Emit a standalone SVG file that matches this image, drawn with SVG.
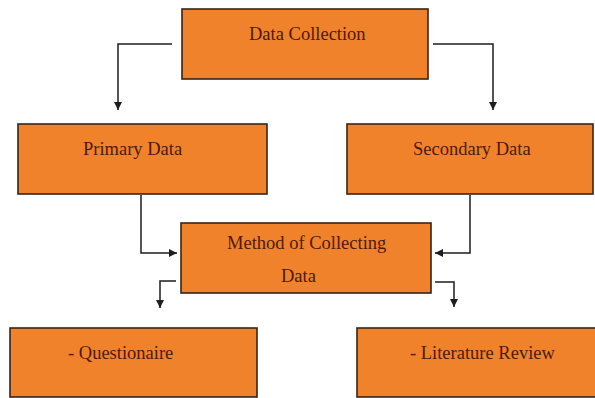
<svg xmlns="http://www.w3.org/2000/svg" width="595" height="398" viewBox="0 0 595 398">
<defs>
<style>
.box{fill:#F0822C;stroke:#3a2416;stroke-width:1.6}
.lbl{font-family:"Liberation Serif","Times New Roman",serif;font-size:18.5px;fill:#4e1a04}
.con{fill:none;stroke:#1e1e1e;stroke-width:1.5}
</style>
<marker id="ah" viewBox="0 0 10 10" refX="10" refY="5" markerWidth="8" markerHeight="8" markerUnits="userSpaceOnUse" orient="auto">
<path d="M0,0 L10,5 L0,10 z" fill="#1e1e1e"/>
</marker>
</defs>
<rect width="595" height="398" fill="#ffffff"/>
<g id="connectors">
<path class="con" d="M172,44 H118 V110" marker-end="url(#ah)"/>
<path class="con" d="M433,44 H493 V110" marker-end="url(#ah)"/>
<path class="con" d="M141,195 V253 H177" marker-end="url(#ah)"/>
<path class="con" d="M470,195 V253 H435" marker-end="url(#ah)"/>
<path class="con" d="M176,281 H160 V308" marker-end="url(#ah)"/>
<path class="con" d="M435,282 H454 V307" marker-end="url(#ah)"/>
</g>
<g id="data-collection">
<rect class="box" x="182" y="9" width="246" height="70"/>
<text class="lbl" x="249" y="40">Data Collection</text>
</g>
<g id="primary-data">
<rect class="box" x="18" y="124" width="249" height="70"/>
<text class="lbl" x="83" y="155">Primary Data</text>
</g>
<g id="secondary-data">
<rect class="box" x="347" y="124" width="246" height="70"/>
<text class="lbl" x="413" y="155">Secondary Data</text>
</g>
<g id="method">
<rect class="box" x="181" y="223" width="250" height="70"/>
<text class="lbl" x="227" y="249">Method of Collecting</text>
<text class="lbl" x="281" y="282">Data</text>
</g>
<g id="questionaire">
<rect class="box" x="10" y="328" width="247" height="69"/>
<text class="lbl" x="68" y="359">- Questionaire</text>
</g>
<g id="literature-review">
<rect class="box" x="357" y="328" width="245" height="69"/>
<text class="lbl" x="410" y="359">- Literature Review</text>
</g>
</svg>
